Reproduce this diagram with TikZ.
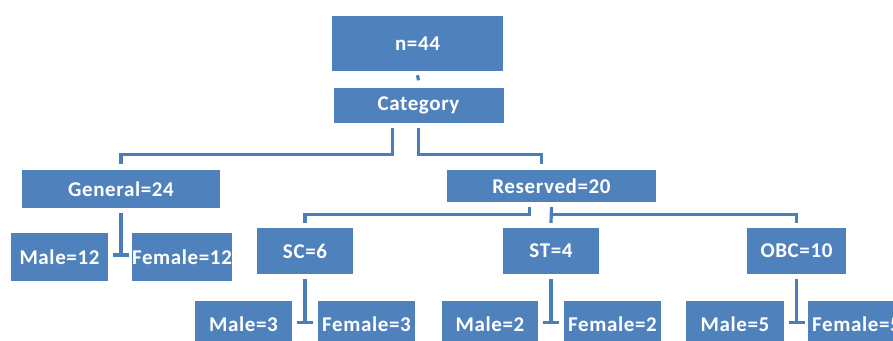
\documentclass[tikz,border=0pt]{standalone}
\usepackage{fontspec}
\setmainfont[LetterSpace=3]{Carlito}
\usetikzlibrary{positioning}
\definecolor{boxblue}{HTML}{4F81BD}
\definecolor{lineblue}{HTML}{4A7EBB}

\tikzset{
  box/.style={rectangle, fill=boxblue, text=white, inner sep=0pt,
    font=\fontsize{21}{25}\selectfont\bfseries},
  link/.style={draw=lineblue, line width=3.2pt}
}

\begin{document}
\begin{tikzpicture}[x=1pt, y=-1pt]
\useasboundingbox (0,0) rectangle (893,340);
\clip (0,0) rectangle (893,340);

\node[box, minimum width=171pt, minimum height=55pt] (n) at (417.5,43.5) {n=44};
\node[box, minimum width=170pt, minimum height=35pt] (cat) at (418.5,105) {Category};

\node[box, minimum width=198pt, minimum height=38pt] (gen) at (121,189) {General=24};
\node[box, minimum width=209pt, minimum height=32pt] (res) at (551.5,186) {Reserved=20};

\node[box, minimum width=97pt, minimum height=48pt] (m12) at (59.5,257) {Male=12};
\node[box, minimum width=98pt, minimum height=48pt] (f12) at (182,257) {Female=12};

\node[box, minimum width=96pt, minimum height=46pt] (sc) at (305,251) {SC=6};
\node[box, minimum width=96pt, minimum height=46pt] (st) at (551,251) {ST=4};
\node[box, minimum width=99pt, minimum height=46pt] (obc) at (796.5,251) {OBC=10};

\node[box, minimum width=97pt, minimum height=47pt] (m3) at (243.5,324.5) {Male=3};
\node[box, minimum width=97pt, minimum height=47pt] (f3) at (366.5,324.5) {Female=3};
\node[box, minimum width=96pt, minimum height=47pt] (m2) at (490,324.5) {Male=2};
\node[box, minimum width=97pt, minimum height=47pt] (f2) at (612.5,324.5) {Female=2};
\node[box, minimum width=98pt, minimum height=47pt] (m5) at (735,324.5) {Male=5};
\node[box, minimum width=97pt, minimum height=47pt] (f5) at (856.5,324.5) {Female=5};

% top of the tree
\draw[link] ([yshift=-4pt]n.south) -- ([yshift=7pt]cat.north);
\draw[link] ([xshift=-26pt,yshift=-5pt]cat.south) -- ++(0,27) -| ([yshift=6pt]gen.north);
\draw[link] ([yshift=-5pt]cat.south) -- ++(0,27) -| ([xshift=-10pt,yshift=6pt]res.north);

% reserved branches
\draw[link] ([xshift=-22pt,yshift=-5pt]res.south) -- ++(0,7) -| ([yshift=5pt]sc.north);
\draw[link] ([yshift=-5pt]res.south) -- ([yshift=5pt]st.north);
\draw[link] ([yshift=-12pt]res.south) -| ([yshift=5pt]obc.north);

% male / female pairs
\foreach \p/\m in {gen/m12, sc/m3, st/m2, obc/m5}
  \draw[link] ([yshift=-5pt]\p.south) -- ([yshift=2pt]\p.south |- \m.east) +(-8pt,0) -- +(8pt,0);
\end{tikzpicture}
\end{document}
